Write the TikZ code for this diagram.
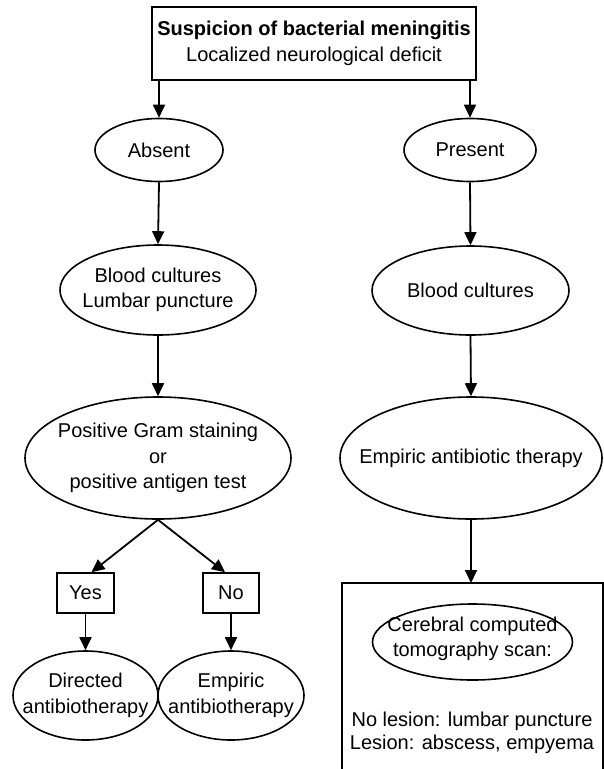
\documentclass[tikz,border=0pt]{standalone}
\usepackage{fontspec}
\setmainfont{Liberation Sans}
\usetikzlibrary{shapes.geometric,arrows.meta}
\begin{document}
\begin{tikzpicture}[x=1pt,y=-1pt,
  every node/.style={font=\fontsize{20}{25.5}\selectfont, text=black},
  ell/.style={draw, ellipse, line width=1.6pt, inner sep=0pt},
  box/.style={draw, rectangle, line width=1.6pt, inner sep=0pt},
  txt/.style={align=center, inner sep=0pt},
  arr/.style={line width=1.8pt, -{Triangle[length=13pt,width=12pt]}}]
\useasboundingbox (0,0) rectangle (604,769);
% top
\node[box, minimum width=324pt, minimum height=73pt] (top) at (314,43.5) {};
\node[txt] (toptxt) at (top) {\textbf{Suspicion of bacterial meningitis}\\Localized neurological deficit};
% left column
\node[ell, minimum width=128pt, minimum height=63pt] (absent) at (159,150) {};
\node[txt] (absenttxt) at (absent) {Absent};
\node[ell, minimum width=196pt, minimum height=90pt] (bloodL) at (158,290) {};
\node[txt] (bloodLtxt) at (bloodL) {Blood cultures\\Lumbar puncture};
\node[ell, minimum width=266pt, minimum height=122pt] (gram) at (158,458) {};
\node[txt] (gramtxt) at (gram) {Positive Gram staining\\or\\positive antigen test};
\node[box, minimum width=57pt, minimum height=40pt] (yes) at (85.5,593) {};
\node[txt] (yestxt) at (yes) {Yes};
\node[box, minimum width=56pt, minimum height=40pt] (no) at (231,593) {};
\node[txt] (notxt) at (no) {No};
\node[ell, minimum width=145pt, minimum height=89pt] (directed) at (85.5,695.5) {};
\node[txt] (directedtxt) at (directed) {Directed\\antibiotherapy};
\node[ell, minimum width=146pt, minimum height=89pt] (empiric) at (231,695.5) {};
\node[txt] (empirictxt) at (empiric) {Empiric\\antibiotherapy};
% right column
\node[ell, minimum width=132pt, minimum height=63pt] (present) at (470,150) {};
\node[txt] (presenttxt) at (present) {Present};
\node[ell, minimum width=197pt, minimum height=89pt] (bloodR) at (470.5,290.5) {};
\node[txt] (bloodRtxt) at (bloodR) {Blood cultures};
\node[ell, minimum width=262pt, minimum height=122pt] (emp) at (471,458) {};
\node[txt] (emptxt) at (emp) {Empiric antibiotic therapy};
\node[minimum width=261pt, minimum height=186pt, inner sep=0pt, outer sep=0pt, anchor=north west] (ctbox) at (342,583) {};
\draw[line width=1.6pt] (ctbox.south west) -- (ctbox.north west) -- (ctbox.north east) -- (ctbox.south east);
\node[ell, minimum width=200pt, minimum height=76pt] (ct) at (472.5,642) {};
\node[txt] (cttxt) at (472.5,639) {Cerebral computed\\tomography scan:};
\node[txt, font=\fontsize{20}{23.5}\selectfont] (lesion) at (472,733) {No lesion: lumbar puncture\\Lesion: abscess, empyema};
% arrows
\draw[arr] (top.south -| absent) -- (absent.north);
\draw[arr] (absent.south) -- (bloodL.north);
\draw[arr] (bloodL.south) -- (gram.north);
\draw[arr] (gram.south) -- ([xshift=6pt]yes.north);
\draw[arr] (gram.south) -- ([xshift=-6pt]no.north);
\draw[arr] (yes.south) -- (directed.north);
\draw[arr] (no.south) -- (empiric.north);
\draw[arr] (top.south -| present) -- (present.north);
\draw[arr] (present.south) -- (bloodR.north);
\draw[arr] (bloodR.south) -- (emp.north);
\draw[arr] (emp.south) -- (emp.south |- ctbox.north);
\end{tikzpicture}
\end{document}
